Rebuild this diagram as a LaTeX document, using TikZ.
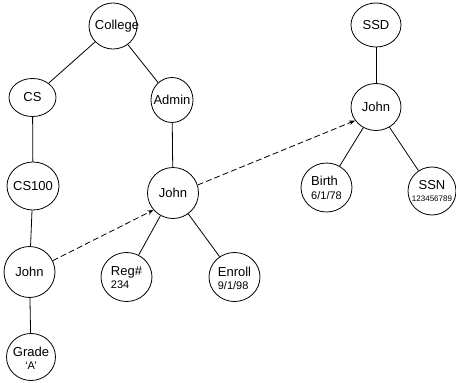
\documentclass[tikz,border=0pt]{standalone}
\usepackage{fontspec}
\setmainfont{Liberation Sans}
\usetikzlibrary{shapes.geometric,arrows.meta}
\tikzset{
  oval/.style 2 args={draw, ellipse, line width=0.8pt, minimum width=#1pt, minimum height=#2pt, inner sep=0pt},
  txt/.style={font=\fontsize{13}{15}\selectfont, inner sep=0pt},
  txtl/.style={txt, align=left},
  txtc/.style={txt, align=center},
  edge/.style={line width=0.8pt},
  link/.style={line width=0.8pt, dash pattern=on 6pt off 3pt, -{Stealth[length=6pt,width=4.5pt]}},
}
\newcommand{\sml}[1]{{\fontsize{11}{13}\selectfont #1}}
\begin{document}
\begin{tikzpicture}[x=1pt,y=-1pt]
\useasboundingbox (0,0) rectangle (456,383);
% left tree
\node[oval={48}{46}, label={[txt,xshift=4pt]center:College}] (college) at (113,26) {};
\node[oval={47}{38}, label={[txt]center:CS}] (cs) at (32.5,97.5) {};
\node[oval={42}{45}, label={[txt]center:Admin}] (admin) at (172,100) {};
\node[oval={52}{48}, label={[txt]center:CS100}] (cs100) at (33,186) {};
\node[oval={51}{51}, label={[txt]center:John}] (johnm) at (173,193) {};
\node[oval={51}{51}, label={[txt]center:John}] (johnl) at (29.5,272) {};
\node[oval={49}{47}, label={[txtc,yshift=-1pt]center:Grade\\[-2pt]\sml{‘A’}}] (grade) at (31,357) {};
\node[oval={51}{49}, label={[txtl,yshift=-1pt]center:Reg\#\\[-2pt]\sml{234}}] (reg) at (126.5,277) {};
\node[oval={51}{49}, label={[txtl,yshift=-1pt]center:Enroll\\[-2pt]\sml{9/1/98}}] (enroll) at (234.5,277) {};
% right tree
\node[oval={50}{44}, label={[txt]center:SSD}] (ssd) at (376,25) {};
\node[oval={50}{47}, label={[txt]center:John}] (johnr) at (376,107) {};
\node[oval={51}{49}, label={[txtl]center:Birth\\[-1pt]\sml{6/1/78}}] (birth) at (326.5,187.5) {};
\node[oval={48}{48}, label={[txtc]center:SSN\\[-3pt]{\fontsize{8}{9}\selectfont 123456789}}] (ssn) at (432,191) {};
% edges
\draw[edge] (college) -- (cs);
\draw[edge] (college) -- (admin);
\draw[edge] (cs) -- (cs100);
\draw[edge] (cs100) -- (johnl);
\draw[edge] (johnl) -- (grade);
\draw[edge] (admin) -- (johnm);
\draw[edge] (johnm) -- (reg);
\draw[edge] (johnm) -- (enroll);
\draw[edge] (ssd) -- (johnr);
\draw[edge] (johnr) -- (birth);
\draw[edge] (johnr) -- (ssn);
% dashed links
\draw[link] (johnl.26) -- (johnm.221);
\draw[link] (johnm.18) -- (johnr.213);
\end{tikzpicture}
\end{document}
